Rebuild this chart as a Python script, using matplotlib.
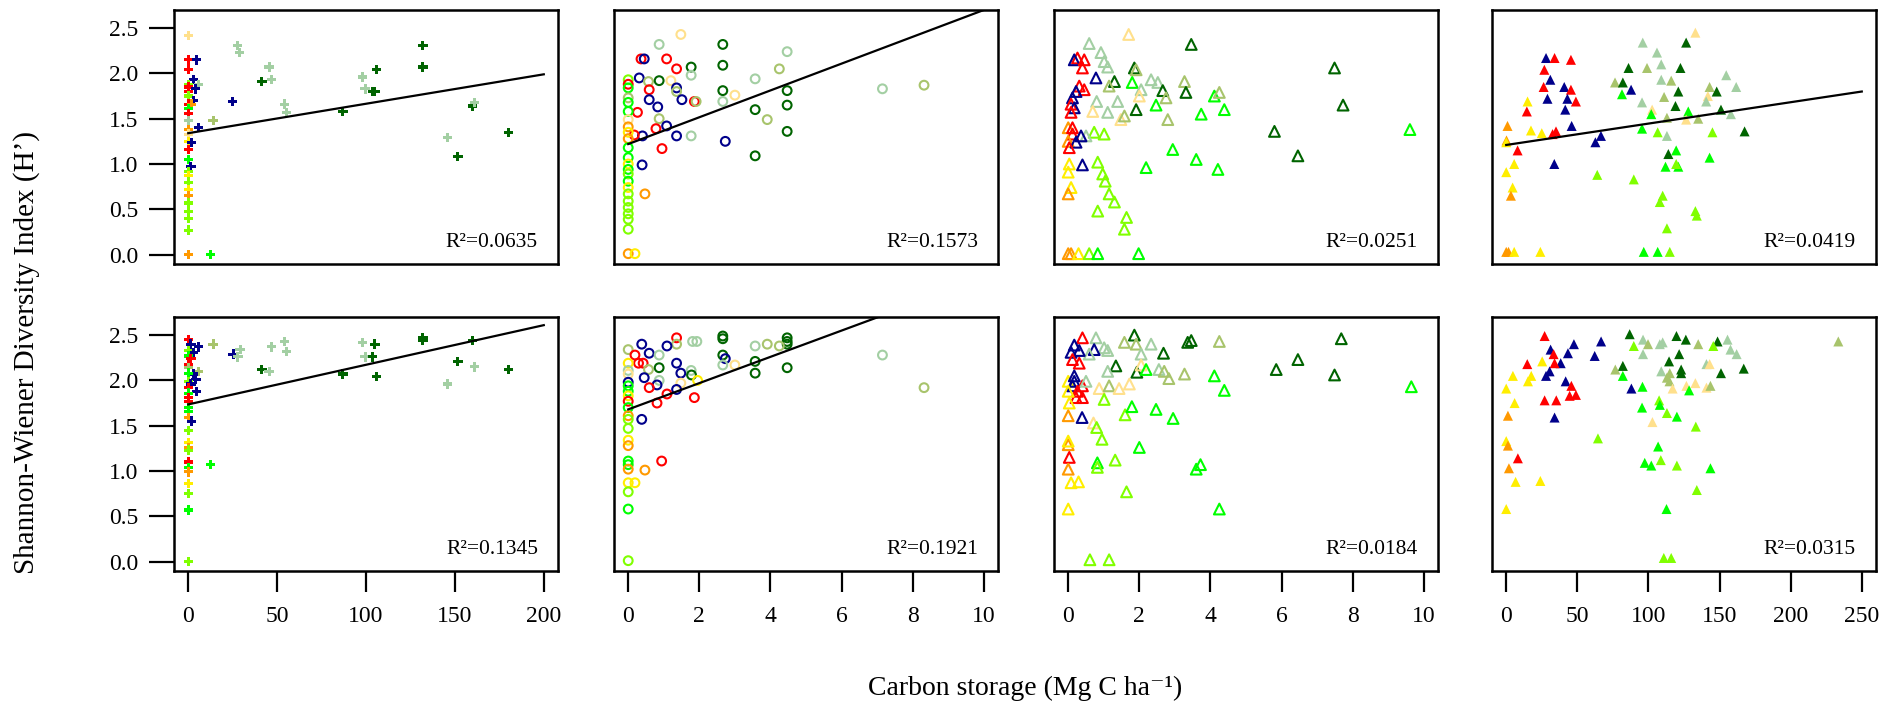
import numpy as np
import matplotlib
matplotlib.use("Agg")
import matplotlib.pyplot as plt

plt.rcParams['font.family'] = ['Liberation Serif', 'DejaVu Serif']

# colour codes of the groups
palette = {'r': '#ff0000', 'b': '#00008b', 'o': '#ff9900', 'y': '#ffee00',
           'l': '#80ff00', 'g': '#00ff00', 'd': '#006400', 's': '#a3cfa3',
           'w': '#a8c46c', 'k': '#ffe08c'}

# ---- row 1 / col 1
p1_x = [0, 0, 4.7, 0, 3, 0, 5.8, 0, 4, 0, 0, 3, 0, 2, 0, 0, 0, 0, 5.8, 0,
        0, 2, 0, 0, 1.5, 0, 0, 0, 0, 0, 0, 0, 0, 0, 0, 12.4, 24.9, 14, 27.7, 29,
        41.4, 45.5, 47, 54, 55.3, 87, 98, 99.5, 103.6, 105, 106, 132, 132, 146, 151.7,
        159.8, 161, 180]
p1_y = [2.42, 2.15, 2.15, 2.04, 1.93, 1.88, 1.88, 1.85, 1.83, 1.80, 1.75, 1.70, 1.66, 1.66, 1.61,
        1.56, 1.48, 1.38, 1.40, 1.33, 1.25, 1.24, 1.16, 1.05, 0.97, 0.92, 0.87, 0.80, 0.72, 0.65,
        0.57, 0.48, 0.40, 0.27, 0.0, 0.0, 1.69, 1.48, 2.31, 2.23, 1.91, 2.07, 1.93, 1.66, 1.57,
        1.58, 1.96, 1.83, 1.80, 1.80, 2.04, 2.31, 2.07, 1.29, 1.08, 1.64, 1.68, 1.35]
p1_c = ("krbrblsrbrlbrogrsobk" "ybrgblylyollllogbwss"
        "dssssdssdddddsd" "dsd")

# ---- row 2 / col 1
p5_x = [0, 1.5, 5.8, 0, 2.8, 0, 1.5, 0, 0, 5.8, 2.8, 0, 4.3, 0, 1.5, 0, 4.7, 0, 0, 0,
        0, 0, 0, 2, 0, 0, 0, 0, 0, 0, 0, 0, 0, 0, 0, 12.4, 14, 25.3, 27.9, 29.2,
        41.4, 45.5, 47, 54, 55.3, 87, 98, 99.5, 103.6, 105, 106, 132, 132, 146, 151.7,
        159.8, 161, 180]
p5_y = [2.45, 2.40, 2.37, 2.33, 2.31, 2.27, 2.24, 2.18, 2.14, 2.10, 2.07, 2.08, 2.01, 1.99, 1.96,
        1.92, 1.88, 1.86, 1.81, 1.77, 1.70, 1.66, 1.59, 1.55, 1.45, 1.31, 1.26, 1.23, 1.10, 1.04,
        0.99, 0.86, 0.75, 0.57, 0.0, 1.07, 2.40, 2.29, 2.26, 2.34, 2.12, 2.10, 2.37, 2.43, 2.32,
        2.07, 2.42, 2.26, 2.26, 2.40, 2.04, 2.47, 2.44, 1.96, 2.21, 2.44, 2.15, 2.12]
p5_c = ("rbblbgrrwwbgblbrbgrr" "ggoblyolrgoylglgwbss"
        "dssssdssdddddsd" "dsd")

# ---- row 1 / col 2
p2_x = [1.48, 0.87, 2.66, 4.47, 0.36, 0.45, 1.08, 1.36, 1.77, 1.77, 2.66, 4.25, 0.31, 0.57, 0.87,
        1.20, 1.36, 1.36, 0.59, 0.59, 0.83, 1.51, 1.86, 1.91, 2.66, 2.66, 3.0, 3.57, 3.57, 3.91,
        4.47, 4.47, 4.47, 3.57, 2.73, 7.15, 8.32, 0.26, 0.87, 1.08, 0.78, 0.40, 0.17, 1.36, 1.77,
        0.95, 0.39, 0.47, 0, 0.19, 0, 0, 0, 0, 0, 0, 0, 0, 0, 0,
        0, 0, 0, 0, 0, 0, 0, 0, 0, 0, 0, 0, 0]
p2_y = [2.43, 2.32, 2.32, 2.24, 2.16, 2.16, 2.16, 2.05, 2.07, 1.98, 2.09, 2.05, 1.95, 1.91, 1.92,
        1.92, 1.84, 1.80, 1.82, 1.71, 1.63, 1.71, 1.69, 1.69, 1.81, 1.69, 1.76, 1.94, 1.60, 1.49,
        1.81, 1.65, 1.36, 1.09, 1.25, 1.83, 1.87, 1.57, 1.50, 1.42, 1.39, 1.31, 1.32, 1.31, 1.31,
        1.17, 0.99, 0.67, 0.01, 0.01, 1.93, 1.88, 1.84, 1.73, 1.68, 1.58, 1.49, 1.41, 1.35, 1.28,
        1.18, 1.07, 1.00, 0.94, 0.89, 0.81, 0.74, 0.67, 0.59, 0.52, 0.45, 0.39, 0.28]
p2_c = ("ksdsrbrrdsdwbwd" "kbwrbbbrwdsksdw" "ddddbswrwbrbrbs"
        "rbooylrgwggkoyo" "ggyglgyllllll")

# ---- row 2 / col 2
p6_x = [1.36, 1.36, 1.81, 1.93, 2.66, 2.66, 4.47, 4.47, 4.47, 3.57, 3.91, 4.25, 7.15, 8.32, 0.38,
        1.09, 0.59, 0.87, 0, 0.19, 0.29, 0.42, 0, 1.36, 2.66, 2.73, 2.66, 3.0, 3.57, 3.57,
        4.47, 0.57, 0.87, 1.48, 1.77, 1.78, 0.45, 0.87, 1.48, 1.95, 0.81, 0.59, 1.36, 1.09, 1.86,
        0.81, 0.38, 0.94, 0.47, 0.19, 0, 0, 0, 0, 0, 0, 0, 0, 0, 0,
        0, 0, 0, 0, 0, 0, 0, 0, 0, 0]
p6_y = [2.47, 2.40, 2.43, 2.43, 2.49, 2.46, 2.47, 2.43, 2.40, 2.38, 2.40, 2.38, 2.28, 1.92, 2.40,
        2.38, 2.30, 2.28, 2.34, 2.28, 2.19, 2.19, 2.19, 2.19, 2.28, 2.24, 2.17, 2.17, 2.21, 2.08,
        2.14, 2.12, 2.14, 2.08, 2.11, 2.06, 2.03, 2.00, 1.97, 2.00, 1.95, 1.92, 1.90, 1.85, 1.81,
        1.75, 1.57, 1.11, 1.01, 0.87, 2.11, 2.07, 1.98, 1.94, 1.88, 1.83, 1.77, 1.70, 1.61, 1.57,
        1.47, 1.34, 1.28, 1.11, 1.07, 1.02, 0.87, 0.77, 0.58, 0.01]
p6_c = ("rwssdddddswwswb" "bbswrrrybdbskdd" "dwdbsdbskybrbrr"
        "rbroyskbggyrgol" "lyoggoylgl")

# ---- row 1 / col 3
p3_x = [1.70, 3.46, 0.59, 0.92, 1.01, 1.11, 0.26, 0.17, 0.45, 0.40, 1.86, 1.91, 7.49, 0.78, 1.30,
        1.15, 1.80, 2.33, 2.52, 2.05, 2.00, 3.27, 2.66, 2.75, 3.31, 4.11, 4.25, 0.31, 0.45, 0.22,
        0.12, 0.08, 0.17, 0.08, 0.80, 1.39, 0.69, 1.11, 1.48, 1.58, 1.91, 2.47, 3.74, 4.39, 2.80,
        7.73, 5.80, 9.61, 6.46, 2.94, 3.60, 4.21, 2.19, 0.73, 1.01, 0.50, 0, 0.12, 0.12, 0,
        0.36, 0.22, 0.03, 0.03, 0, 0.40, 0.83, 0.97, 1.04, 0.08, 0, 1.15, 1.30, 0.83, 1.64,
        1.58, 0, 0.08, 0.29, 0.59, 0.83, 1.98]
p3_y = [2.43, 2.32, 2.33, 2.23, 2.13, 2.07, 2.17, 2.15, 2.15, 2.06, 2.06, 2.04, 2.06, 1.95, 1.91,
        1.86, 1.90, 1.93, 1.90, 1.82, 1.75, 1.91, 1.81, 1.73, 1.79, 1.75, 1.79, 1.86, 1.82, 1.80,
        1.73, 1.66, 1.62, 1.57, 1.69, 1.69, 1.58, 1.57, 1.49, 1.53, 1.60, 1.65, 1.55, 1.60, 1.49,
        1.65, 1.36, 1.38, 1.09, 1.16, 1.05, 0.94, 0.96, 1.35, 1.33, 1.31, 1.40, 1.40, 1.33, 1.25,
        1.31, 1.24, 1.18, 1.00, 0.91, 0.99, 1.02, 0.89, 0.81, 0.74, 0.67, 0.67, 0.58, 0.48, 0.41,
        0.28, 0.01, 0.01, 0.01, 0.01, 0.01, 0.01]
p3_c = ("kdssssrbrrdwdbd" "wgssskwdwdgwrrb" "brbrsskskwdgggw"
        "ddgdggggllsorro" "bbryyblllyollll" "looylgg")

# ---- row 2 / col 3
p7_x = [0.40, 0.78, 1.86, 3.46, 3.36, 4.25, 7.68, 0.17, 1.01, 1.11, 0.73, 1.58, 1.91, 2.33, 2.05,
        2.68, 0.59, 0.08, 0.31, 0.12, 0.31, 6.46, 5.85, 7.49, 1.34, 1.11, 1.93, 2.05, 2.19, 2.55,
        2.70, 2.83, 3.27, 4.11, 4.39, 9.65, 0, 0.17, 0.17, 0.12, 0.40, 0.26, 0.22, 0.40, 0.50,
        0.87, 1.15, 1.43, 1.72, 0, 0.03, 1.01, 1.60, 1.79, 2.47, 2.95, 0, 0.39, 0.71, 0.80,
        0.95, 2.0, 0, 0, 0.03, 0, 0.82, 0.82, 1.32, 3.72, 3.60, 0.08, 0.29, 1.64, 0,
        4.25, 0.61, 1.15]
p7_y = [2.47, 2.47, 2.50, 2.44, 2.42, 2.43, 2.46, 2.39, 2.36, 2.33, 2.34, 2.42, 2.40, 2.40, 2.29,
        2.30, 2.29, 2.31, 2.33, 2.23, 2.19, 2.23, 2.12, 2.06, 2.16, 2.10, 2.09, 2.17, 2.12, 2.12,
        2.10, 2.02, 2.07, 2.05, 1.89, 1.93, 1.99, 2.05, 1.99, 1.94, 1.94, 1.88, 1.81, 1.81, 1.99,
        1.91, 1.94, 1.91, 1.96, 1.88, 1.75, 1.79, 1.62, 1.71, 1.68, 1.58, 1.61, 1.59, 1.53, 1.48,
        1.35, 1.26, 1.29, 1.33, 1.15, 1.02, 1.09, 1.04, 1.12, 1.07, 1.02, 0.87, 0.88, 0.77, 0.58,
        0.58, 0.02, 0.02]
p7_c = ("rsdddwdbssbwwss" "dsbbrrddddsdkgs" "wwwgggybbbrrrrs"
        "kwkkyyllgggobkl" "lgoyrogllggyyly" "gll")

# ---- row 1 / col 4
p4_x = [133, 96, 126.5, 106, 28, 34, 45.5, 109, 86, 99, 122.5, 26.8, 31, 109, 116,
        154.7, 76.5, 82, 26.3, 40.8, 45.5, 87.8, 81.4, 121, 143, 148, 161.7, 111, 141.8, 140.6,
        15, 14.5, 29, 43, 49, 41.5, 95.5, 119, 102.6, 102, 128, 151, 158, 113, 126.5,
        135, 0.9, 17.4, 25, 35, 32.6, 46, 66.6, 62.7, 95.5, 106.5, 113, 145, 167.6, 0.2,
        0, 8, 33.8, 114, 119.5, 112, 121, 119.5, 143, 5.6, 0, 64, 89.7, 4.5, 3.3,
        110, 108, 133, 134, 113, 0, 1.6, 5.6, 24, 96.7, 106.5, 115]
p4_y = [2.45, 2.34, 2.34, 2.23, 2.17, 2.17, 2.15, 2.10, 2.06, 2.06, 2.06, 2.04, 1.93, 1.93, 1.92,
        1.98, 1.90, 1.90, 1.85, 1.85, 1.82, 1.82, 1.77, 1.80, 1.85, 1.80, 1.85, 1.74, 1.75, 1.69,
        1.69, 1.58, 1.72, 1.72, 1.69, 1.60, 1.68, 1.64, 1.60, 1.55, 1.58, 1.60, 1.55, 1.51, 1.49,
        1.50, 1.42, 1.37, 1.34, 1.36, 1.33, 1.42, 1.31, 1.24, 1.39, 1.35, 1.31, 1.35, 1.36, 1.26,
        1.24, 1.15, 1.00, 1.11, 1.15, 0.97, 0.97, 1.00, 1.07, 1.00, 0.91, 0.88, 0.83, 0.74, 0.65,
        0.65, 0.58, 0.48, 0.43, 0.29, 0.03, 0.03, 0.03, 0.03, 0.03, 0.03, 0.03]
p4_c = ("ksdsbrrsdwdrbsw" "swdrbrbgdwdswks" "yrbbrbsdkggdswk"
        "woyyrrbbbglsldo" "yrbdggglgyyllyo" "lllllooyyggl")

# ---- row 2 / col 4
p8_x = [27, 86.8, 96.2, 99.7, 89.7, 119.7, 126.3, 108, 110, 135, 148.6, 145.6, 155.6, 157.7, 162,
        233.5, 66.7, 47.6, 43.4, 31.2, 33.3, 96.2, 121.6, 62.2, 114.5, 38.3, 34, 25.3, 14.8, 140.8,
        143, 82, 76.7, 167, 109, 115, 123, 123, 151, 114.8, 113, 30.5, 28, 17.6, 4.7,
        15.3, 82, 41.8, 45.8, 49, 44.6, 0, 88, 95.8, 117, 126.7, 133, 140.8, 143.6, 128.6,
        107.5, 108, 5.9, 27, 35.2, 95.5, 113, 120, 1.2, 34, 102.8, 133.3, 64.5, 0, 1.2,
        106.8, 8.2, 1.9, 97.4, 102, 108.7, 120, 143.6, 6.6, 24, 134, 112.7, 0, 110.8, 116]
p8_y = [2.49, 2.51, 2.45, 2.40, 2.38, 2.49, 2.45, 2.40, 2.42, 2.40, 2.43, 2.38, 2.45, 2.34, 2.29,
        2.43, 2.43, 2.40, 2.30, 2.34, 2.29, 2.29, 2.29, 2.27, 2.21, 2.19, 2.19, 2.21, 2.18, 2.18,
        2.18, 2.16, 2.12, 2.13, 2.10, 2.08, 2.12, 2.08, 2.08, 1.99, 2.03, 2.10, 2.05, 2.05, 2.05,
        1.99, 2.05, 1.99, 1.94, 1.84, 1.83, 1.91, 1.91, 1.93, 1.91, 1.94, 1.97, 1.92, 1.94, 1.89,
        1.78, 1.73, 1.75, 1.78, 1.78, 1.70, 1.64, 1.60, 1.61, 1.59, 1.54, 1.49, 1.36, 1.33, 1.28,
        1.27, 1.14, 1.03, 1.09, 1.06, 1.12, 1.06, 1.03, 0.88, 0.89, 0.79, 0.58, 0.58, 0.04, 0.04]
p8_c = ("rdswlddsswdlsss" "wbbbbrsdbdbryrs" "kdwdswdddwwbbyy"
        "ygbrrrybgkkkkwg" "lgyrrglgobkllyo" "groggllgyylgyll")

# regression lines: (intercept, slope), None = no line
fits = [(1.34, 0.00325), (1.22, 0.148), None, (1.21, 0.00236),
        (1.735, 0.004375), (1.68, 0.145), None, None]
r2_labels = ["0.0635", "0.1573", "0.0251", "0.0419",
             "0.1345", "0.1921", "0.0184", "0.0315"]

xs = [p1_x, p2_x, p3_x, p4_x, p5_x, p6_x, p7_x, p8_x]
ys = [p1_y, p2_y, p3_y, p4_y, p5_y, p6_y, p7_y, p8_y]
cs = [p1_c, p2_c, p3_c, p4_c, p5_c, p6_c, p7_c, p8_c]

xlims = [(-8, 208), (-0.4, 10.4), (-0.4, 10.4), (-10, 260)]
xticks = [np.arange(0, 201, 50), np.arange(0, 11, 2), np.arange(0, 11, 2), np.arange(0, 251, 50)]

W, H = 1903, 705
fig = plt.figure(figsize=(W / 100, H / 100), dpi=100)

lefts = [174, 614, 1054, 1492]
tops = [10, 317]
aw, ah = 384, 254

for i in range(8):
    row, col = divmod(i, 4)
    ax = fig.add_axes([lefts[col] / W, 1 - (tops[row] + ah) / H, aw / W, ah / H])
    x, y = np.array(xs[i]), np.array(ys[i])
    assert len(x) == len(y) == len(cs[i]), (i, len(x), len(y), len(cs[i]))
    cols = [palette[k] for k in cs[i]]

    if col == 0:
        ax.scatter(x, y, marker='P', s=46, c=cols, linewidths=0)
    elif col == 1:
        ax.scatter(x, y, marker='o', s=40, facecolors='none', edgecolors=cols, linewidths=1.5)
    elif col == 2:
        ax.scatter(x, y, marker='^', s=60, facecolors='none', edgecolors=cols, linewidths=1.5)
    else:
        ax.scatter(x, y, marker='^', s=52, c=cols, linewidths=0)

    if fits[i] is not None:
        b0, b1 = fits[i]
        xx = np.array([0, xticks[col][-1]])
        ax.plot(xx, b0 + b1 * xx, color='black', lw=1.6)

    ax.text(0.948, 0.065, "R²=" + r2_labels[i], transform=ax.transAxes,
            ha='right', va='baseline', fontsize=15.5)

    ax.set_xlim(*xlims[col])
    ax.set_ylim(-0.104, 2.70)
    for sp in ax.spines.values():
        sp.set_linewidth(1.8)

    if row == 1:
        ax.set_xticks(xticks[col])
        ax.set_xticklabels([str(t) for t in xticks[col]])
    else:
        ax.set_xticks([])
    if col == 0:
        ax.set_yticks([0, 0.5, 1.0, 1.5, 2.0, 2.5])
        ax.set_yticklabels(["0.0", "0.5", "1.0", "1.5", "2.0", "2.5"])
    else:
        ax.set_yticks([])
    ax.tick_params(axis='y', length=18, width=1.6, labelsize=17, pad=8)
    ax.tick_params(axis='x', length=15, width=1.6, labelsize=17, pad=10)

fig.text(27 / W, 1 - 352 / H, "Shannon-Wiener Diversity Index (H’)", rotation=90,
         ha='center', va='center', fontsize=21)
fig.text(1025 / W, 1 - 688 / H, "Carbon storage (Mg C ha⁻¹)",
         ha='center', va='center', fontsize=20)

fig.savefig("out.png", dpi=100)
